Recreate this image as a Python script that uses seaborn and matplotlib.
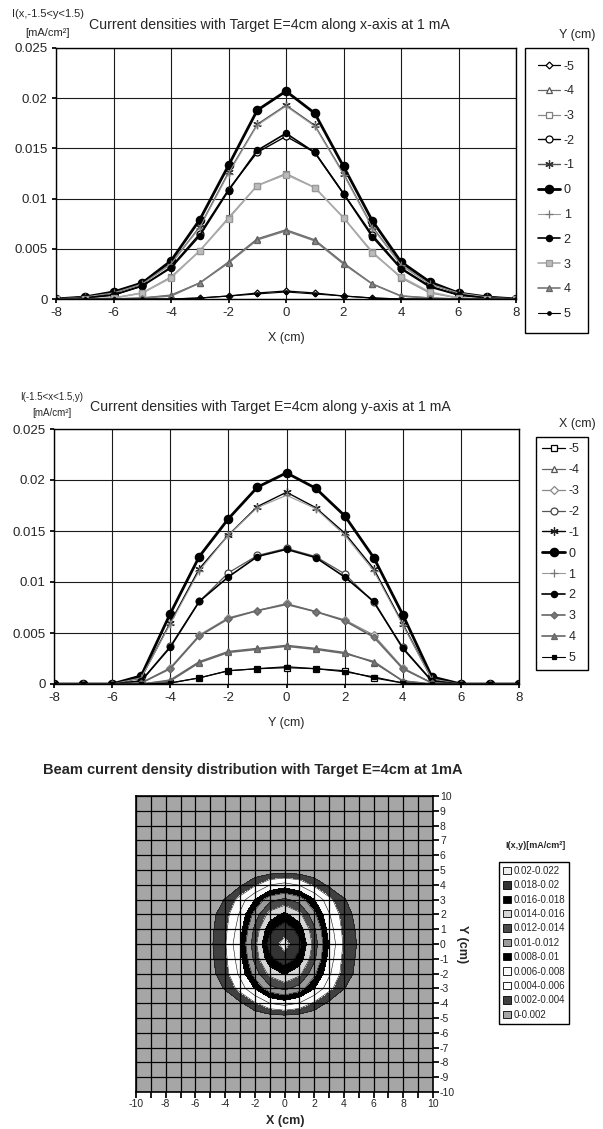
import numpy as np
import pandas as pd
import matplotlib
matplotlib.use("Agg")
import matplotlib.pyplot as plt
import seaborn as sns
from matplotlib.patches import Patch

# ===== DATA =====
x_cm = list(range(-8, 9))      # x positions of the x-axis profiles
y_rows = list(range(-5, 6))    # Y (cm) series of the top chart
x_cols = list(range(-5, 6))    # X (cm) series of the middle chart

# I(x,y) [mA/cm2]; rows y=-5..5, columns x=-8..8
density = [
    [0, 0, 0, 0, 0, 0.0001, 0.0003, 0.0006, 0.0008, 0.0006, 0.0003, 0.0001, 0, 0, 0, 0, 0],
    [0, 0, 0, 0.0001, 0.0004, 0.0016, 0.0037, 0.0060, 0.0069, 0.0059, 0.0036, 0.0015, 0.0003, 0.0001, 0, 0, 0],
    [0, 0, 0.0001, 0.0006, 0.0022, 0.0048, 0.0081, 0.0113, 0.0125, 0.0111, 0.0081, 0.0047, 0.0021, 0.0006, 0.0001, 0, 0],
    [0, 0.0001, 0.0004, 0.0013, 0.0032, 0.0065, 0.0109, 0.0146, 0.0162, 0.0146, 0.0105, 0.0064, 0.0031, 0.0013, 0.0004, 0.0001, 0],
    [0, 0.0002, 0.0006, 0.0015, 0.0035, 0.0072, 0.0126, 0.0174, 0.0193, 0.0173, 0.0125, 0.0072, 0.0034, 0.0015, 0.0006, 0.0002, 0],
    [0, 0.0002, 0.0007, 0.0016, 0.0038, 0.0079, 0.0133, 0.0188, 0.0207, 0.0185, 0.0132, 0.0078, 0.0037, 0.0017, 0.0006, 0.0002, 0],
    [0, 0.0002, 0.0006, 0.0015, 0.0035, 0.0071, 0.0125, 0.0173, 0.0192, 0.0172, 0.0124, 0.0071, 0.0034, 0.0015, 0.0006, 0.0002, 0],
    [0, 0.0001, 0.0004, 0.0013, 0.0031, 0.0063, 0.0108, 0.0148, 0.0165, 0.0146, 0.0105, 0.0062, 0.0030, 0.0012, 0.0004, 0.0001, 0],
    [0, 0, 0.0001, 0.0006, 0.0021, 0.0048, 0.0080, 0.0113, 0.0124, 0.0111, 0.0081, 0.0046, 0.0022, 0.0007, 0.0001, 0, 0],
    [0, 0, 0, 0.0001, 0.0003, 0.0016, 0.0036, 0.0059, 0.0068, 0.0058, 0.0035, 0.0015, 0.0003, 0.0001, 0, 0, 0],
    [0, 0, 0, 0, 0, 0.0001, 0.0003, 0.0005, 0.0007, 0.0005, 0.0003, 0.0001, 0, 0, 0, 0, 0],
]

ytick_vals = [0, 0.005, 0.01, 0.015, 0.02, 0.025]
ytick_labels = ["0", "0.005", "0.01", "0.015", "0.02", "0.025"]
xtick_vals = [-8, -6, -4, -2, 0, 2, 4, 6, 8]

levels = [0, 0.002, 0.004, 0.006, 0.008, 0.010, 0.012, 0.014, 0.016, 0.018, 0.020, 0.022]
level_labels = ["0-0.002", "0.002-0.004", "0.004-0.006", "0.006-0.008", "0.008-0.01",
                "0.01-0.012", "0.012-0.014", "0.014-0.016", "0.016-0.018", "0.018-0.02",
                "0.02-0.022"]
level_colors = ["#a6a6a6", "#404040", "#ffffff", "#fbfbfb", "#000000", "#9a9a9a",
                "#4a4a4a", "#d6d6d6", "#000000", "#333333", "#eeeeee"]

# ===== STYLES =====
top_styles = {
    -5: dict(color="black", lw=0.9, marker="D", ms=3.5, mfc="white", mec="black"),
    -4: dict(color="#666666", lw=0.9, marker="^", ms=4.5, mfc="white", mec="#555555"),
    -3: dict(color="#8a8a8a", lw=0.9, marker="s", ms=4.5, mfc="white", mec="#808080"),
    -2: dict(color="black", lw=1.0, marker="o", ms=5, mfc="white", mec="black"),
    -1: dict(color="#555555", lw=1.0, marker=(6, 2, 0), ms=6, mfc="none", mec="#333333"),
    0: dict(color="black", lw=2.0, marker="o", ms=6, mfc="black", mec="black"),
    1: dict(color="#999999", lw=0.8, marker="+", ms=6, mfc="none", mec="#777777"),
    2: dict(color="black", lw=1.2, marker="o", ms=4.5, mfc="black", mec="black"),
    3: dict(color="#aaaaaa", lw=1.2, marker="s", ms=4.5, mfc="#bbbbbb", mec="#999999"),
    4: dict(color="#777777", lw=1.2, marker="^", ms=5, mfc="#888888", mec="#666666"),
    5: dict(color="black", lw=0.8, marker="o", ms=2.5, mfc="black", mec="black"),
}
mid_styles = {
    -5: dict(color="black", lw=0.9, marker="s", ms=4.5, mfc="white", mec="black"),
    -4: dict(color="#666666", lw=0.9, marker="^", ms=4.5, mfc="white", mec="#555555"),
    -3: dict(color="#888888", lw=0.9, marker="D", ms=4, mfc="white", mec="#888888"),
    -2: dict(color="#555555", lw=0.9, marker="o", ms=5, mfc="white", mec="#444444"),
    -1: dict(color="black", lw=1.0, marker=(6, 2, 0), ms=6, mfc="none", mec="#222222"),
    0: dict(color="black", lw=2.0, marker="o", ms=6, mfc="black", mec="black"),
    1: dict(color="#999999", lw=0.8, marker="+", ms=6, mfc="none", mec="#777777"),
    2: dict(color="black", lw=1.2, marker="o", ms=4.5, mfc="black", mec="black"),
    3: dict(color="#666666", lw=1.2, marker="D", ms=3.5, mfc="#777777", mec="#666666"),
    4: dict(color="#666666", lw=1.2, marker="^", ms=4.5, mfc="#777777", mec="#666666"),
    5: dict(color="black", lw=0.8, marker="s", ms=3, mfc="black", mec="black"),
}

# ===== THEME =====
sns.set_theme(style="white")
plt.rcParams['font.family'] = ['Liberation Sans', 'DejaVu Sans']
plt.rcParams['axes.unicode_minus'] = False

W, H = 603, 1129
fig = plt.figure(figsize=(W / 100, H / 100), dpi=100)

def px_axes(left, top, right, bottom):
    return fig.add_axes([left / W, 1 - bottom / H, (right - left) / W, (bottom - top) / H])

grid = np.pad(np.array(density), ((5, 5), (2, 2)))   # y,x = -10..10
full_axis = list(range(-10, 11))

top_df = pd.DataFrame([{"x": xv, "I": grid[yv + 10, xv + 10], "Y": yv}
                       for yv in y_rows for xv in x_cm])
mid_df = pd.DataFrame([{"y": yv, "I": grid[yv + 10, xv + 10], "X": xv}
                       for xv in x_cols for yv in x_cm])


def style_line_axes(ax):
    ax.set_xlim(-8, 8)
    ax.set_ylim(0, 0.025)
    ax.set_xticks(xtick_vals)
    ax.set_yticks(ytick_vals)
    ax.set_yticklabels(ytick_labels)
    ax.tick_params(labelsize=9.5, length=3, direction="out", color="black",
                   left=True, bottom=True, pad=3)
    ax.grid(True, color="#1a1a1a", lw=0.8)
    ax.set_xlabel("")
    ax.set_ylabel("")
    for sp in ax.spines.values():
        sp.set_color("black")
        sp.set_linewidth(1.0)


def draw_profiles(ax, df, xcol, key, styles):
    handles = []
    for k in styles:
        st = styles[k]
        sns.lineplot(data=df[df[key] == k], x=xcol, y="I", ax=ax, legend=False,
                     color=st["color"], linewidth=st["lw"], marker=st["marker"],
                     markersize=st["ms"], markerfacecolor=st["mfc"],
                     markeredgecolor=st["mec"], markeredgewidth=0.9)
        handles.append(ax.lines[-1])
    return handles


leg_kw = dict(loc="upper left", mode="expand", borderaxespad=0, fontsize=9,
              frameon=True, fancybox=False, edgecolor="black", framealpha=1,
              handlelength=1.8, handletextpad=0.3)

# ===== TOP CHART =====
ax1 = px_axes(56, 48, 516, 299)
h1 = draw_profiles(ax1, top_df, "x", "Y", top_styles)
style_line_axes(ax1)
fig.text(48 / W, 1 - 14 / H, "I(x,-1.5<y<1.5)", ha="center", va="center", fontsize=8)
fig.text(48 / W, 1 - 33 / H, "[mA/cm²]", ha="center", va="center", fontsize=8)
fig.text(269 / W, 1 - 25 / H, "Current densities with Target E=4cm along x-axis at 1 mA",
         ha="center", va="center", fontsize=10.2)
fig.text(286 / W, 1 - 338 / H, "X (cm)", ha="center", va="center", fontsize=9)
fig.text(577 / W, 1 - 35 / H, "Y (cm)", ha="center", va="center", fontsize=9)
fig.legend(h1, [str(k) for k in y_rows], bbox_to_anchor=(525 / W, 1 - 48 / H, 63 / W, 0),
           labelspacing=1.02, borderpad=1.0, **leg_kw)

# ===== MIDDLE CHART =====
ax2 = px_axes(54, 429, 519, 684)
h2 = draw_profiles(ax2, mid_df, "y", "X", mid_styles)
style_line_axes(ax2)
fig.text(52 / W, 1 - 397 / H, "I(-1.5<x<1.5,y)", ha="center", va="center", fontsize=7)
fig.text(52 / W, 1 - 413 / H, "[mA/cm²]", ha="center", va="center", fontsize=7)
fig.text(270 / W, 1 - 407 / H, "Current densities with Target E=4cm along y-axis at 1 mA",
         ha="center", va="center", fontsize=10.2)
fig.text(286 / W, 1 - 723 / H, "Y (cm)", ha="center", va="center", fontsize=9)
fig.text(577 / W, 1 - 424 / H, "X (cm)", ha="center", va="center", fontsize=9)
fig.legend(h2, [str(k) for k in x_cols], bbox_to_anchor=(536 / W, 1 - 437 / H, 52 / W, 0),
           labelspacing=0.71, borderpad=0.5, **leg_kw)

# ===== CONTOUR CHART =====
ax3 = px_axes(136, 796, 433, 1092)
ax3.contourf(full_axis, full_axis, grid, levels=levels, colors=level_colors)
ax3.contour(full_axis, full_axis, grid, levels=levels[1:-1], colors="#111111",
            linewidths=0.4)
ax3.set_xlim(-10, 10)
ax3.set_ylim(-10, 10)
ax3.set_xticks(full_axis)
ax3.set_xticklabels([str(v) if v % 2 == 0 else "" for v in full_axis])
ax3.set_yticks(full_axis)
ax3.set_yticklabels([str(v) for v in full_axis])
ax3.yaxis.tick_right()
ax3.tick_params(labelsize=7.5, length=4, direction="out", color="black",
                bottom=True, right=True, left=False, pad=1)
ax3.set_axisbelow(False)
ax3.grid(True, color="black", lw=0.9)
for sp in ax3.spines.values():
    sp.set_color("black")
    sp.set_linewidth(1.2)
fig.text(253 / W, 1 - 770 / H, "Beam current density distribution with Target E=4cm at 1mA",
         ha="center", va="center", fontsize=10.5, fontweight="bold")
fig.text(285 / W, 1 - 1121 / H, "X (cm)", ha="center", va="center", fontsize=9,
         fontweight="bold")
fig.text(462 / W, 1 - 944 / H, "Y (cm)", ha="center", va="center", fontsize=9,
         fontweight="bold", rotation=270)
fig.text(535 / W, 1 - 846 / H, "I(x,y)[mA/cm²]", ha="center", va="center", fontsize=6.5,
         fontweight="bold")
patches = [Patch(facecolor=c, edgecolor="black", linewidth=0.6) for c in level_colors[::-1]]
fig.legend(patches, level_labels[::-1], loc="upper left",
           bbox_to_anchor=(499 / W, 1 - 862 / H), borderaxespad=0, fontsize=7,
           frameon=True, fancybox=False, edgecolor="black", framealpha=1,
           handlelength=0.8, handleheight=0.8, handletextpad=0.3, labelspacing=0.45,
           borderpad=0.4)

fig.savefig("out.png", dpi=100)
